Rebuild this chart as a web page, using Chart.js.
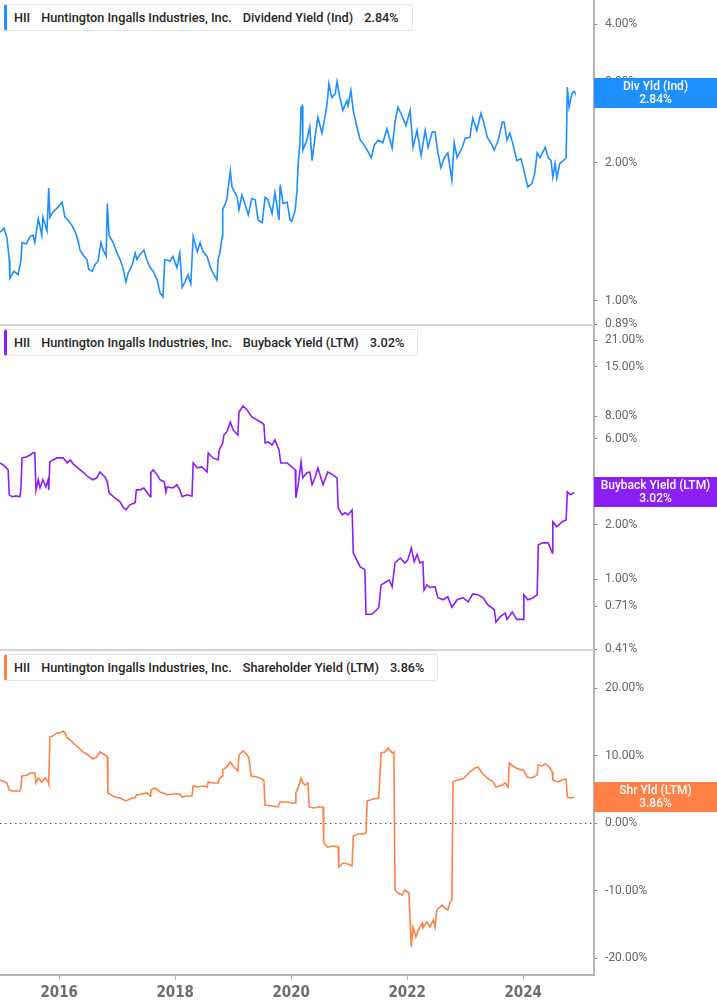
<!DOCTYPE html>
<html>
<head>
<meta charset="utf-8">
<title>HII yields</title>
<script src="https://cdn.jsdelivr.net/npm/chart.js@4.4.1/dist/chart.umd.min.js"></script>
<style>
  html, body { margin: 0; padding: 0; background: #fff; }
  #wrap { position: relative; width: 717px; height: 1005px; overflow: hidden; }
  #chart { position: absolute; left: 0; top: 0; }
  .legend {
    position: absolute; left: 4px; height: 27px; box-sizing: border-box;
    border: 1px solid #e6e6e6; border-left: 3px solid; border-radius: 3px;
    background: #fff; font: 500 12.7px Roboto, sans-serif; color: #262626;
    line-height: 25px; padding: 0 13px 0 7px; white-space: nowrap;
  }
  .legend span { margin-right: 11px; }
  .legend span:last-child { margin-right: 0; }
</style>
</head>
<body>
<div id="wrap">
  <canvas id="chart" width="717" height="1005"></canvas>
</div>
<script>
// Colors
const BLUE = '#1e8fff'
const PURPLE = '#8b1ff5'
const ORANGE = '#ff8145'
const AXIS = '#b4b4b4'
const TEXT = '#666666'

// Axis ticks
const yearTicks = [2016, 2018, 2020, 2022, 2024]
const divTicks = [0.89, 1, 2, 3, 4]
const buyTicks = [0.41, 0.71, 1, 2, 3, 6, 8, 15, 21]
const shrTicks = [-20, -10, 0, 10, 20]

// Dividend Yield (Ind), %
const divDates = [
  2014.98, 2015.05, 2015.10, 2015.14, 2015.15, 2015.22, 2015.29, 2015.34, 2015.36, 2015.43, 2015.50, 2015.55, 2015.58, 2015.64, 2015.70, 2015.72, 2015.79, 2015.82, 2015.84, 2015.89, 2015.96,
  2016.05, 2016.10, 2016.15, 2016.22, 2016.27, 2016.32, 2016.36, 2016.41, 2016.48, 2016.51, 2016.57, 2016.62, 2016.67, 2016.72, 2016.76, 2016.81, 2016.83, 2016.86, 2016.93,
  2017.00, 2017.05, 2017.10, 2017.15, 2017.19, 2017.26, 2017.31, 2017.34, 2017.39, 2017.46, 2017.51, 2017.57, 2017.62, 2017.69, 2017.74, 2017.79, 2017.82, 2017.91, 2017.96,
  2018.03, 2018.08, 2018.12, 2018.17, 2018.22, 2018.27, 2018.31, 2018.38, 2018.43, 2018.48, 2018.55, 2018.60, 2018.65, 2018.72, 2018.74, 2018.77, 2018.81, 2018.82, 2018.89, 2018.95, 2018.98,
  2019.07, 2019.10, 2019.15, 2019.20, 2019.26, 2019.32, 2019.38, 2019.43, 2019.50, 2019.55, 2019.60, 2019.67, 2019.72, 2019.79, 2019.81, 2019.86, 2019.93, 2019.98,
  2020.01, 2020.07, 2020.10, 2020.12, 2020.15, 2020.17, 2020.19, 2020.20, 2020.27, 2020.32, 2020.36, 2020.41, 2020.46, 2020.53, 2020.58, 2020.62, 2020.65, 2020.70, 2020.76, 2020.79, 2020.84, 2020.89, 2020.96, 2020.98,
  2021.03, 2021.07, 2021.12, 2021.19, 2021.24, 2021.31, 2021.38, 2021.43, 2021.50, 2021.58, 2021.65, 2021.74, 2021.79, 2021.84, 2021.91, 2021.98,
  2022.05, 2022.10, 2022.17, 2022.24, 2022.31, 2022.36, 2022.43, 2022.48, 2022.53, 2022.58, 2022.64, 2022.70, 2022.77, 2022.81, 2022.86, 2022.95,
  2023.00, 2023.08, 2023.13, 2023.20, 2023.27, 2023.32, 2023.38, 2023.45, 2023.50, 2023.57, 2023.64, 2023.67, 2023.72, 2023.77, 2023.82, 2023.89, 2023.96,
  2024.00, 2024.05, 2024.08, 2024.15, 2024.20, 2024.24, 2024.29, 2024.38, 2024.43, 2024.48, 2024.51, 2024.55, 2024.58, 2024.63, 2024.69, 2024.74, 2024.76, 2024.79, 2024.84, 2024.88, 2024.89,
]
const divYield = [
  1.41, 1.44, 1.37, 1.23, 1.12, 1.16, 1.14, 1.22, 1.34, 1.33, 1.38, 1.39, 1.34, 1.51, 1.39, 1.52, 1.42, 1.76, 1.52, 1.56, 1.59,
  1.64, 1.52, 1.50, 1.46, 1.42, 1.36, 1.29, 1.26, 1.23, 1.17, 1.16, 1.20, 1.22, 1.34, 1.29, 1.25, 1.63, 1.39, 1.34,
  1.27, 1.23, 1.18, 1.10, 1.15, 1.20, 1.27, 1.23, 1.26, 1.29, 1.23, 1.18, 1.16, 1.11, 1.04, 1.02, 1.23, 1.22, 1.25,
  1.18, 1.27, 1.07, 1.10, 1.14, 1.09, 1.38, 1.28, 1.34, 1.28, 1.25, 1.19, 1.15, 1.11, 1.23, 1.27, 1.38, 1.58, 1.66, 1.92, 1.77,
  1.68, 1.58, 1.70, 1.63, 1.54, 1.67, 1.66, 1.50, 1.48, 1.68, 1.66, 1.55, 1.72, 1.50, 1.79, 1.63, 1.64, 1.50,
  1.49, 1.58, 1.74, 1.99, 2.20, 2.64, 2.66, 2.13, 2.24, 2.39, 2.02, 2.27, 2.51, 2.32, 2.51, 2.69, 2.97, 2.77, 2.83, 3.00, 2.77, 2.60, 2.73, 2.66,
  2.87, 2.60, 2.43, 2.24, 2.20, 2.13, 2.05, 2.18, 2.24, 2.21, 2.37, 2.15, 2.45, 2.64, 2.53, 2.41,
  2.60, 2.16, 2.35, 2.07, 2.35, 2.16, 2.33, 2.33, 2.10, 1.95, 2.05, 2.10, 1.83, 2.21, 2.05, 2.16,
  2.26, 2.27, 2.50, 2.35, 2.56, 2.45, 2.27, 2.20, 2.13, 2.24, 2.45, 2.45, 2.24, 2.32, 2.20, 2.02, 2.04,
  1.95, 1.83, 1.77, 1.80, 1.90, 2.10, 2.05, 2.16, 2.05, 2.02, 1.86, 1.99, 1.85, 1.99, 2.02, 2.05, 2.92, 2.64, 2.83, 2.86, 2.84,
]

// Buyback Yield (LTM), %
const buyDates = [
  2014.98, 2015.05, 2015.12, 2015.14, 2015.19, 2015.26, 2015.32, 2015.34, 2015.36, 2015.43, 2015.50, 2015.55, 2015.58, 2015.60, 2015.64, 2015.67, 2015.72, 2015.77, 2015.81, 2015.82, 2015.84, 2015.89, 2015.96,
  2016.01, 2016.07, 2016.14, 2016.19, 2016.24, 2016.32, 2016.41, 2016.50, 2016.58, 2016.65, 2016.70, 2016.79, 2016.83, 2016.86, 2016.96,
  2017.05, 2017.10, 2017.15, 2017.22, 2017.31, 2017.33, 2017.39, 2017.46, 2017.51, 2017.57, 2017.58, 2017.62, 2017.69, 2017.74, 2017.81, 2017.84, 2017.86, 2017.96,
  2018.03, 2018.08, 2018.12, 2018.20, 2018.29, 2018.31, 2018.38, 2018.46, 2018.55, 2018.57, 2018.65, 2018.74, 2018.76, 2018.82, 2018.84, 2018.89, 2018.95,
  2019.00, 2019.08, 2019.10, 2019.17, 2019.24, 2019.32, 2019.41, 2019.50, 2019.53, 2019.55, 2019.60, 2019.67, 2019.72, 2019.79, 2019.82, 2019.93,
  2020.01, 2020.07, 2020.08, 2020.12, 2020.17, 2020.20, 2020.27, 2020.32, 2020.36, 2020.41, 2020.46, 2020.55, 2020.63, 2020.72, 2020.79, 2020.81, 2020.88, 2020.93, 2020.98,
  2021.05, 2021.07, 2021.13, 2021.19, 2021.27, 2021.29, 2021.39, 2021.48, 2021.51, 2021.55, 2021.62, 2021.69, 2021.74, 2021.79, 2021.88, 2021.96,
  2022.01, 2022.07, 2022.12, 2022.17, 2022.22, 2022.27, 2022.29, 2022.34, 2022.39, 2022.48, 2022.53, 2022.62, 2022.70, 2022.77, 2022.86, 2022.96,
  2023.05, 2023.13, 2023.22, 2023.31, 2023.39, 2023.50, 2023.53, 2023.60, 2023.69, 2023.72, 2023.81, 2023.89,
  2024.00, 2024.01, 2024.08, 2024.17, 2024.24, 2024.26, 2024.34, 2024.43, 2024.50, 2024.51, 2024.58, 2024.67, 2024.74, 2024.76, 2024.81, 2024.88,
]
const buyYield = [
  4.40, 4.25, 4.03, 2.93, 2.86, 2.89, 2.86, 3.12, 4.69, 4.75, 4.87, 5.00, 5.00, 3.12, 3.55, 3.20, 3.55, 3.24, 3.55, 3.12, 4.46, 4.57, 4.69,
  4.69, 4.69, 4.40, 4.57, 4.35, 4.13, 3.92, 3.68, 3.55, 3.64, 3.92, 3.68, 3.46, 3.01, 2.82,
  2.68, 2.51, 2.42, 2.58, 2.65, 3.12, 3.12, 3.20, 3.04, 2.86, 3.88, 4.03, 3.78, 3.55, 3.46, 3.04, 3.24, 3.20,
  3.33, 3.12, 2.86, 2.93, 2.89, 4.40, 4.13, 4.18, 3.92, 5.00, 4.69, 4.57, 5.19, 5.68, 6.28, 6.53, 7.41,
  6.70, 6.28, 8.42, 9.09, 8.64, 7.90, 7.61, 7.32, 7.14, 5.68, 5.75, 5.53, 5.90, 5.19, 4.40, 4.40,
  4.18, 4.03, 2.82, 3.33, 4.46, 3.64, 3.88, 3.92, 3.33, 3.64, 4.13, 3.33, 3.92, 3.78, 3.64, 2.48, 2.27, 2.33, 2.27,
  2.42, 1.40, 1.28, 1.17, 1.13, 0.64, 0.64, 0.68, 0.70, 0.93, 0.96, 0.99, 0.91, 1.23, 1.31, 1.23,
  1.28, 1.49, 1.25, 1.37, 1.23, 1.25, 0.87, 0.93, 0.90, 0.91, 0.79, 0.77, 0.80, 0.70, 0.77, 0.79,
  0.75, 0.83, 0.82, 0.79, 0.72, 0.68, 0.58, 0.62, 0.65, 0.60, 0.66, 0.60,
  0.60, 0.82, 0.77, 0.79, 0.82, 1.55, 1.59, 1.59, 1.40, 2.08, 1.95, 2.08, 2.13, 3.04, 2.93, 3.02,
]

// Shareholder Yield (LTM), %
const shrDates = [
  2014.98, 2015.07, 2015.10, 2015.14, 2015.20, 2015.32, 2015.34, 2015.36, 2015.45, 2015.50, 2015.58, 2015.60, 2015.64, 2015.70, 2015.76, 2015.81, 2015.82, 2015.84, 2015.89, 2015.96,
  2016.01, 2016.07, 2016.10, 2016.14, 2016.19, 2016.24, 2016.32, 2016.41, 2016.50, 2016.58, 2016.65, 2016.70, 2016.79, 2016.83, 2016.84, 2016.96,
  2017.05, 2017.15, 2017.26, 2017.31, 2017.33, 2017.43, 2017.51, 2017.57, 2017.58, 2017.65, 2017.74, 2017.84, 2017.86, 2017.96,
  2018.08, 2018.12, 2018.20, 2018.29, 2018.31, 2018.39, 2018.48, 2018.55, 2018.57, 2018.65, 2018.74, 2018.76, 2018.81, 2018.82, 2018.89, 2018.95,
  2019.00, 2019.08, 2019.10, 2019.17, 2019.24, 2019.27, 2019.31, 2019.41, 2019.50, 2019.53, 2019.55, 2019.67, 2019.77, 2019.81, 2019.93,
  2020.01, 2020.07, 2020.08, 2020.12, 2020.17, 2020.20, 2020.24, 2020.29, 2020.31, 2020.38, 2020.46, 2020.55, 2020.56, 2020.63, 2020.72, 2020.81, 2020.82, 2020.89, 2020.98,
  2021.05, 2021.07, 2021.15, 2021.24, 2021.29, 2021.31, 2021.41, 2021.51, 2021.55, 2021.62, 2021.67, 2021.74, 2021.77, 2021.79, 2021.84, 2021.91, 2021.96,
  2022.03, 2022.07, 2022.10, 2022.15, 2022.19, 2022.26, 2022.27, 2022.34, 2022.39, 2022.45, 2022.48, 2022.51, 2022.60, 2022.65, 2022.70, 2022.74, 2022.77, 2022.79, 2022.86, 2022.96,
  2023.03, 2023.08, 2023.17, 2023.22, 2023.29, 2023.38, 2023.48, 2023.53, 2023.64, 2023.69, 2023.74, 2023.76, 2023.82, 2023.91,
  2024.00, 2024.07, 2024.15, 2024.24, 2024.26, 2024.32, 2024.38, 2024.45, 2024.50, 2024.51, 2024.60, 2024.67, 2024.74, 2024.76, 2024.81, 2024.88,
]
const shrYield = [
  6.42, 6.13, 5.98, 4.94, 4.79, 4.79, 5.24, 7.02, 7.17, 7.46, 7.46, 5.98, 6.72, 6.13, 6.72, 6.13, 5.83, 12.80, 12.95, 13.40,
  13.40, 13.69, 13.40, 12.66, 12.36, 11.91, 11.32, 10.58, 10.13, 9.54, 9.84, 10.58, 10.13, 9.84, 4.50, 3.90,
  3.75, 3.31, 3.75, 3.75, 4.20, 4.35, 4.50, 4.05, 4.94, 5.24, 4.64, 4.35, 4.20, 4.35,
  4.35, 3.90, 4.05, 4.05, 5.53, 5.39, 5.53, 5.39, 6.13, 5.98, 5.98, 6.57, 7.02, 7.91, 8.35, 9.09,
  8.50, 7.76, 10.13, 10.73, 10.13, 9.69, 7.02, 6.87, 6.57, 6.28, 2.72, 2.57, 2.42, 3.16, 3.16,
  3.01, 3.01, 4.50, 5.24, 6.72, 5.98, 5.68, 5.98, 2.42, 2.27, 2.42, 2.42, -2.92, -3.52, -3.37, -3.52, -6.48, -5.89, -6.04,
  -6.34, -1.88, -1.59, -1.59, -1.44, 3.31, 3.61, 3.75, 10.43, 10.58, 11.17, 10.43, 10.58, -9.90, -10.34, -10.64, -9.90,
  -10.34, -18.35, -15.39, -16.87, -15.83, -14.80, -15.53, -14.65, -15.39, -14.35, -15.39, -12.86, -12.12, -12.57, -12.86, -11.68, -11.38, 6.13, 6.42, 6.57,
  7.17, 7.61, 8.20, 8.35, 7.46, 6.72, 6.13, 5.39, 5.68, 5.98, 5.39, 8.95, 8.50, 8.06,
  7.91, 6.87, 6.72, 7.17, 8.65, 8.50, 8.80, 8.35, 7.61, 6.42, 6.13, 6.42, 6.57, 3.90, 3.75, 3.86,
]

const pct = (v) => v.toFixed(2) + '%'
const last = (arr) => arr[arr.length - 1]
const points = (dates, values) => dates.slice(0, values.length).map((d, i) => ({ x: d, y: values[i] }))

const panels = [
  { id: 'yDiv', color: BLUE, name: 'Dividend Yield (Ind)', tag: 'Div Yld (Ind)', values: divYield },
  { id: 'yBuy', color: PURPLE, name: 'Buyback Yield (LTM)', tag: 'Buyback Yield (LTM)', values: buyYield },
  { id: 'yShr', color: ORANGE, name: 'Shareholder Yield (LTM)', tag: 'Shr Yld (LTM)', values: shrYield },
]

function yAxis(type, min, max, tickValues) {
  return {
    type,
    min,
    max,
    position: 'right',
    stack: 'panels',
    stackWeight: 1,
    border: { color: AXIS, width: 2 },
    grid: { drawOnChartArea: false, drawTicks: true, tickLength: 3, tickColor: '#777', tickWidth: 1 },
    ticks: {
      autoSkip: false,
      padding: 8,
      color: TEXT,
      font: { family: 'Roboto', size: 12 },
      callback: (v) => pct(v),
    },
    afterBuildTicks: (s) => { s.ticks = tickValues.map((v) => ({ value: v })) },
    afterFit: (s) => {
      s.width = 123
      s.paddingTop = 0
      s.paddingBottom = 0
    },
  }
}

// separators, zero line and right-hand value tags
const panelDecor = {
  id: 'panelDecor',
  beforeDatasetsDraw(chart) {
    const { ctx, chartArea } = chart
    const z = chart.scales.yShr.getPixelForValue(0)
    ctx.save()
    ctx.strokeStyle = '#555'
    ctx.lineWidth = 1.2
    ctx.setLineDash([1.5, 3.5])
    ctx.beginPath()
    ctx.moveTo(0, Math.round(z) + 0.5)
    ctx.lineTo(chartArea.right, Math.round(z) + 0.5)
    ctx.stroke()
    ctx.restore()
  },
  afterDraw(chart) {
    const { ctx, chartArea, width } = chart
    ctx.save()
    ctx.strokeStyle = '#c8c8c8'
    ctx.lineWidth = 1.5
    ;['yDiv', 'yBuy'].forEach((id) => {
      const y = Math.round(chart.scales[id].bottom)
      ctx.beginPath()
      ctx.moveTo(0, y)
      ctx.lineTo(chartArea.right, y)
      ctx.stroke()
    })
    panels.forEach((p) => {
      const v = last(p.values)
      const y = chart.scales[p.id].getPixelForValue(v)
      const x0 = chartArea.right
      ctx.fillStyle = p.color
      ctx.fillRect(x0, Math.round(y - 15), width - x0, 30)
      ctx.fillStyle = '#fff'
      ctx.textAlign = 'center'
      ctx.textBaseline = 'middle'
      ctx.font = '500 12px Roboto'
      const cx = (x0 + width) / 2
      ctx.fillText(p.tag, cx, y - 6)
      ctx.fillText(pct(v), cx, y + 7)
    })
    ctx.restore()
  },
}

const chart = new Chart(document.getElementById('chart'), {
  type: 'line',
  data: {
    datasets: [
      { data: points(divDates, divYield), yAxisID: 'yDiv', borderColor: BLUE },
      { data: points(buyDates, buyYield), yAxisID: 'yBuy', borderColor: PURPLE },
      { data: points(shrDates, shrYield), yAxisID: 'yShr', borderColor: ORANGE },
    ],
  },
  options: {
    responsive: false,
    animation: false,
    layout: { padding: 0 },
    elements: {
      point: { radius: 0 },
      line: { borderWidth: 1.6, tension: 0 },
    },
    plugins: {
      legend: { display: false },
      tooltip: { enabled: false },
    },
    scales: {
      x: {
        type: 'linear',
        min: 2014.98,
        max: 2025.22,
        position: 'bottom',
        border: { color: AXIS, width: 2 },
        grid: { drawOnChartArea: false, tickLength: 5, tickColor: AXIS },
        ticks: {
          autoSkip: false,
          maxRotation: 0,
          padding: 4,
          color: '#6e6e6e',
          font: { family: "'Liberation Sans Narrow', 'DejaVu Sans Condensed', Roboto", size: 15, weight: 'bold' },
          callback: (v) => String(v),
        },
        afterBuildTicks: (s) => { s.ticks = yearTicks.map((v) => ({ value: v })) },
        afterFit: (s) => {
          s.height = 30
          s.paddingLeft = 0
          s.paddingRight = 0
        },
      },
      yDiv: yAxis('logarithmic', 0.886, 4.52, divTicks),
      yBuy: yAxis('logarithmic', 0.406, 25.5, buyTicks),
      yShr: yAxis('linear', -22.5, 25.7, shrTicks),
    },
  },
  plugins: [panelDecor],
})

// legend boxes at the top-left of each panel
const wrap = document.getElementById('wrap')
panels.forEach((p) => {
  const box = document.createElement('div')
  box.className = 'legend'
  box.style.borderLeftColor = p.color
  box.style.top = Math.round(chart.scales[p.id].top + 4) + 'px'
  ;['HII', 'Huntington Ingalls Industries, Inc.', p.name, pct(last(p.values))].forEach((t) => {
    const s = document.createElement('span')
    s.textContent = t
    box.appendChild(s)
  })
  wrap.appendChild(box)
})
</script>
</body>
</html>
